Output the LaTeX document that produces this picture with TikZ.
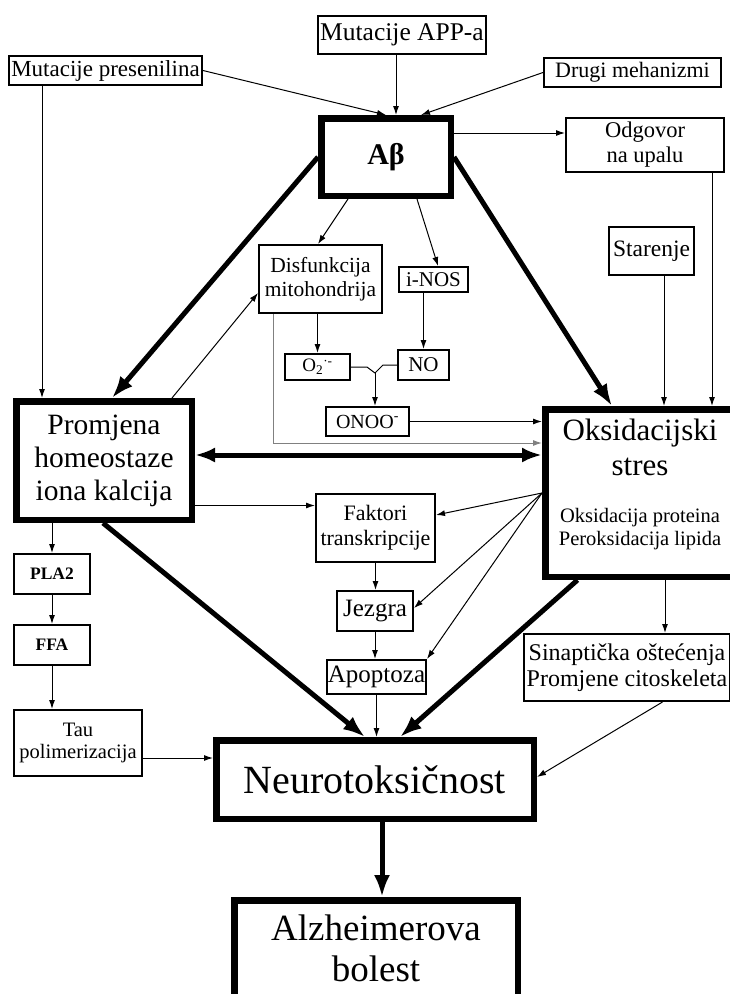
\documentclass[tikz,border=0pt]{standalone}
\usepackage{fontspec}
\setmainfont{Liberation Serif}
\usetikzlibrary{arrows.meta}

\begin{document}
\begin{tikzpicture}[x=1pt,y=-1pt,
    kutija/.style={draw, line width=1.6pt, inner sep=0pt, align=center},
    okvir/.style={draw, line width=6.5pt, inner sep=0pt, align=center},
    linija/.style={line width=1pt},
    tanka/.style={line width=1pt, -{Latex[length=9pt,width=6pt]}},
    siva/.style={tanka, draw=gray},
    debela/.style={line width=5pt, -{Latex[length=22pt,width=16pt]}}]
    \useasboundingbox (0,0) rectangle (729,994);

    % Uzroci
    \node[kutija, minimum width=168.4pt, minimum height=38.4pt, font=\fontsize{25.5}{28}\selectfont] (app) at (402,35) {Mutacije APP-a};
    \node[kutija, minimum width=193.4pt, minimum height=29.4pt, font=\fontsize{23}{26}\selectfont] (presen) at (105.5,70.5) {Mutacije presenilina};
    \node[kutija, minimum width=177.4pt, minimum height=29.4pt, font=\fontsize{22}{25}\selectfont] (drugi) at (632.5,72.5) {Drugi mehanizmi};

    % Glavne kutije
    \node[okvir, minimum width=129.5pt, minimum height=77.5pt, font=\bfseries\fontsize{30}{34}\selectfont] (ab) at (386,157) {Aβ};
    \node[okvir, minimum width=175.5pt, minimum height=118.5pt, font=\fontsize{29.5}{33}\selectfont] (promjena) at (104,460.5) {Promjena\\homeostaze\\iona kalcija};
    \node[okvir, minimum width=187.5pt, minimum height=167.5pt] (oks) at (639,493) {};
    \node[font=\fontsize{31}{35}\selectfont, align=center] (oksnaslov) at (640,447) {Oksidacijski\\stres};
    \node[font=\fontsize{20.5}{23}\selectfont, align=center] (oksopis) at (640,529) {Oksidacija proteina\\Peroksidacija lipida};
    \node[okvir, minimum width=317.5pt, minimum height=78.5pt, font=\fontsize{40}{44}\selectfont] (neuro) at (375,779.5) {Neurotoksičnost};
    \node[okvir, minimum width=283.5pt, minimum height=96.5pt, font=\fontsize{37}{41}\selectfont] (alz) at (376,948.5) {Alzheimerova\\bolest};

    % Ostale kutije
    \node[kutija, minimum width=158.4pt, minimum height=54.4pt, font=\fontsize{22.5}{25}\selectfont] (odgovor) at (645,145) {Odgovor\\na upalu};
    \node[kutija, minimum width=85.4pt, minimum height=48.4pt, font=\fontsize{23.5}{26}\selectfont] (starenje) at (651.5,251) {Starenje};
    \node[kutija, minimum width=123.4pt, minimum height=68.4pt, font=\fontsize{21.5}{24}\selectfont] (disf) at (320.5,279) {Disfunkcija\\mitohondrija};
    \node[kutija, minimum width=69.4pt, minimum height=25.4pt, font=\fontsize{21}{24}\selectfont] (inos) at (433.5,279.5) {i-NOS};
    \node[kutija, minimum width=65.4pt, minimum height=26.4pt, font=\fontsize{19}{22}\selectfont] (o2) at (317.5,367) {O\textsubscript{2}\textsuperscript{·-}};
    \node[kutija, minimum width=51.4pt, minimum height=30.4pt, font=\fontsize{21}{24}\selectfont] (no) at (423.5,365) {NO};
    \node[kutija, minimum width=83.4pt, minimum height=29.4pt, font=\fontsize{20}{23}\selectfont] (onoo) at (367.5,421.5) {ONOO\textsuperscript{-}};
    \node[kutija, minimum width=119.4pt, minimum height=68.4pt, font=\fontsize{22}{25}\selectfont] (faktori) at (375.5,528) {Faktori\\transkripcije};
    \node[kutija, minimum width=76.4pt, minimum height=40.4pt, font=\fontsize{25}{28}\selectfont] (jezgra) at (375,611) {Jezgra};
    \node[kutija, minimum width=99.4pt, minimum height=34.4pt, font=\fontsize{25}{28}\selectfont] (apoptoza) at (376.5,677) {Apoptoza};
    \node[kutija, minimum width=206.4pt, minimum height=67.4pt, font=\fontsize{24}{26}\selectfont] (sinapt) at (627,667.5) {Sinaptička oštećenja\\Promjene citoskeleta};
    \node[kutija, minimum width=76.4pt, minimum height=40.4pt, font=\bfseries\fontsize{17.5}{20}\selectfont] (pla2) at (52,574) {PLA2};
    \node[kutija, minimum width=76.4pt, minimum height=40.4pt, font=\bfseries\fontsize{17.5}{20}\selectfont] (ffa) at (52,645) {FFA};
    \node[kutija, minimum width=128.4pt, minimum height=66.4pt, font=\fontsize{20.5}{22}\selectfont] (tau) at (78,743) {Tau\\polimerizacija};

    % Pomocne tocke
    \coordinate (presdolje) at ([xshift=-63.5pt]presen.south);
    \coordinate (appdolje) at ([xshift=-6pt]app.south);
    \coordinate (stardolje) at ([xshift=12.5pt]starenje.south);
    \coordinate (odgdolje) at ([xshift=67pt]odgovor.south);
    \coordinate (disfdolje) at ([xshift=-47.5pt]disf.south);
    \coordinate (spoj) at (375,373);
    \coordinate (dvostruka) at ([yshift=5.5pt]promjena.east);
    \coordinate (promdesno) at ([yshift=-45pt]promjena.east);
    \coordinate (tauizlaz) at ([yshift=-15pt]tau.east);
    \coordinate (oksdolje) at ([xshift=26pt]oks.south);
    \coordinate (neurodolje) at ([xshift=7pt]neuro.south);

    % Tanke strelice
    \draw[tanka] (presen.east) -- (ab.north);
    \draw[tanka] (appdolje) -- ([xshift=10pt]ab.north);
    \draw[tanka] (drugi.west) -- ([xshift=35pt]ab.north);
    \draw[tanka] (presdolje) -- (presdolje |- promjena.north);
    \draw[tanka] ([yshift=24pt]ab.east) -- ([yshift=12pt]odgovor.west);
    \draw[tanka] (odgdolje) -- (odgdolje |- oks.north);
    \draw[tanka] (stardolje) -- (stardolje |- oks.north);
    \draw[tanka] ([xshift=-38pt]ab.south) -- ([xshift=-2.5pt]disf.north);
    \draw[tanka] ([xshift=31pt]ab.south) -- ([xshift=4.5pt]inos.north);
    \draw[tanka] ([xshift=68pt]promjena.north) -- ([yshift=-14pt]disf.west);
    \draw[tanka] (o2.north |- disf.south) -- (o2.north);
    \draw[tanka] (no.north |- inos.south) -- (no.north);
    \draw[linija] (o2.east) -- ++(16,0) -- (spoj);
    \draw[linija] (no.west) -- ++(-14,0) -- (spoj);
    \draw[tanka] (spoj) -- (spoj |- onoo.north);
    \draw[tanka] (onoo.east) -- (onoo.east -| oks.west);
    \draw[siva] (disfdolje) |- ([yshift=50pt]oks.west);
    \draw[tanka] (promdesno) -- (promdesno -| faktori.west);
    \draw[tanka] (oks.west) -- ([yshift=13pt]faktori.east);
    \draw[tanka] (oks.west) -- ([yshift=3pt]jezgra.east);
    \draw[tanka] (oks.west) -- (apoptoza.north east);
    \draw[tanka] (faktori.south) -- (faktori.south |- jezgra.north);
    \draw[tanka] (jezgra.south) -- (jezgra.south |- apoptoza.north);
    \draw[tanka] (apoptoza.south) -- (apoptoza.south |- neuro.north);
    \draw[tanka] (oksdolje) -- (oksdolje |- sinapt.north);
    \draw[tanka] (pla2.north |- promjena.south) -- (pla2.north);
    \draw[tanka] (pla2.south) -- (ffa.north);
    \draw[tanka] (ffa.south) -- (tau.north -| ffa.south);
    \draw[tanka] (tauizlaz) -- (tauizlaz -| neuro.west);
    \draw[tanka] ([xshift=35.5pt]sinapt.south) -- ([yshift=2.5pt]neuro.east);

    % Debele strelice
    \draw[debela] (ab.west) -- ([xshift=8pt]promjena.north);
    \draw[debela] (ab.east) -- ([xshift=-27pt]oks.north);
    \draw[debela, {Latex[length=20pt,width=15pt]}-{Latex[length=20pt,width=15pt]}] (dvostruka) -- (dvostruka -| oks.west);
    \draw[debela] ([xshift=-1pt]promjena.south) -- ([xshift=-10pt]neuro.north);
    \draw[debela] ([xshift=-61.5pt]oks.south) -- ([xshift=25pt]neuro.north);
    \draw[debela] (neurodolje) -- (neurodolje |- alz.north);
\end{tikzpicture}
\end{document}
